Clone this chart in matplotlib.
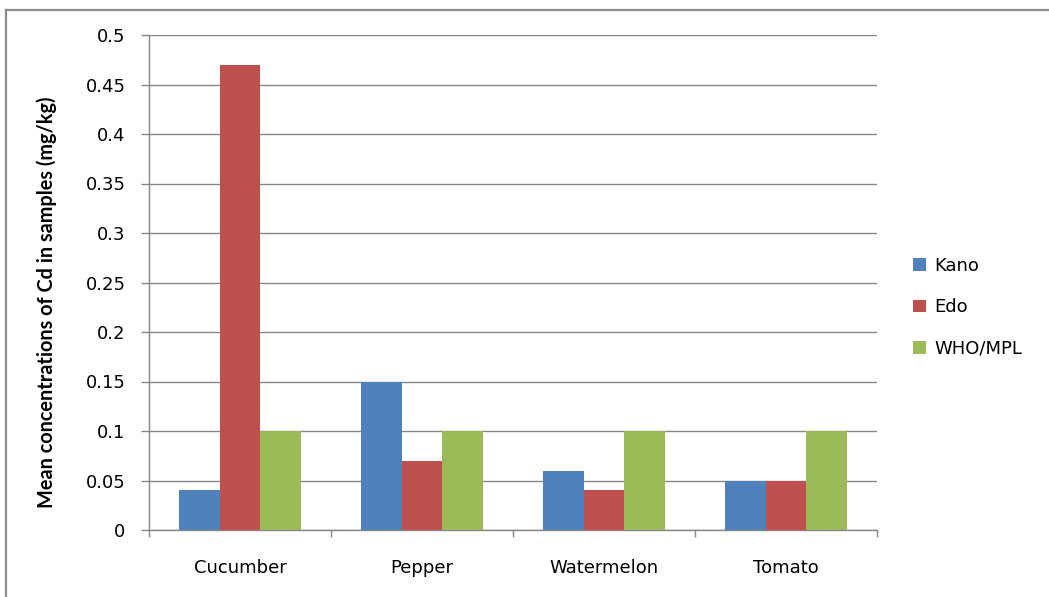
import numpy as np
import matplotlib.pyplot as plt
from matplotlib.lines import Line2D

# data
categories = ["Cucumber", "Pepper", "Watermelon", "Tomato"]
kano = [0.04, 0.15, 0.06, 0.05]
edo = [0.47, 0.07, 0.04, 0.05]
who_mpl = [0.10, 0.10, 0.10, 0.10]
series_names = ["Kano", "Edo", "WHO/MPL"]
yticks = [0, 0.05, 0.1, 0.15, 0.2, 0.25, 0.3, 0.35, 0.4, 0.45, 0.5]
ytick_labels = ["0", "0.05", "0.1", "0.15", "0.2", "0.25", "0.3", "0.35", "0.4", "0.45", "0.5"]

colors = ["#4F81BD", "#C0504D", "#9BBB59"]
grey = "#868686"

plt.rcParams["font.family"] = ["DejaVu Sans"]

fig = plt.figure(figsize=(10.49, 5.97), dpi=100)
ax = fig.add_axes([149 / 1049, 1 - 530 / 597, (877 - 149) / 1049, (530 - 35) / 597])

# chart-area border: only the top and left edges are visible (cropped image)
top_y = 1 - 9.5 / 597
left_x = 6 / 1049
fig.lines.append(Line2D([left_x, 1.0], [top_y, top_y], transform=fig.transFigure,
                        color="#8c8c8c", linewidth=1.6))
fig.lines.append(Line2D([left_x, left_x], [0.0, top_y], transform=fig.transFigure,
                        color="#8c8c8c", linewidth=1.6))

x = np.arange(len(categories))
bw = 1 / 4.5  # gap width 150%
for i, (vals, name) in enumerate(zip([kano, edo, who_mpl], series_names)):
    ax.bar(x + (i - 1) * bw, vals, width=bw, color=colors[i], label=name, zorder=3)

ax.set_xlim(-0.5, len(categories) - 0.5)
ax.set_ylim(0, 0.5)
ax.set_yticks(yticks)
ax.set_yticklabels(ytick_labels, fontsize=13)
ax.yaxis.grid(True, color=grey, linewidth=1.0, zorder=0)

ax.set_xticks(x)
ax.set_xticklabels(categories, fontsize=13)
ax.set_xticks(np.arange(len(categories) + 1) - 0.5, minor=True)
ax.tick_params(axis="x", which="major", length=0, pad=21)
ax.tick_params(axis="x", which="minor", length=5, color=grey, width=1.0)
ax.tick_params(axis="y", length=6, color=grey, width=1.0, pad=11)

for s in ["top", "right"]:
    ax.spines[s].set_visible(False)
for s in ["left", "bottom"]:
    ax.spines[s].set_color(grey)
    ax.spines[s].set_linewidth(1.0)

ax.set_ylabel("Mean concentrations of Cd in samples (mg/kg)", fontsize=14.3,
              fontweight="bold", family=["Lato", "DejaVu Sans"])
ax.yaxis.set_label_coords(-(149 - 57) / 728, (530 - 302) / 495)

ax.legend(loc="center left", bbox_to_anchor=(1.027, 0.45), frameon=False,
          fontsize=13, handlelength=0.7, handleheight=0.7, handletextpad=0.5,
          labelspacing=1.3)

fig.savefig("out.png", dpi=100)
